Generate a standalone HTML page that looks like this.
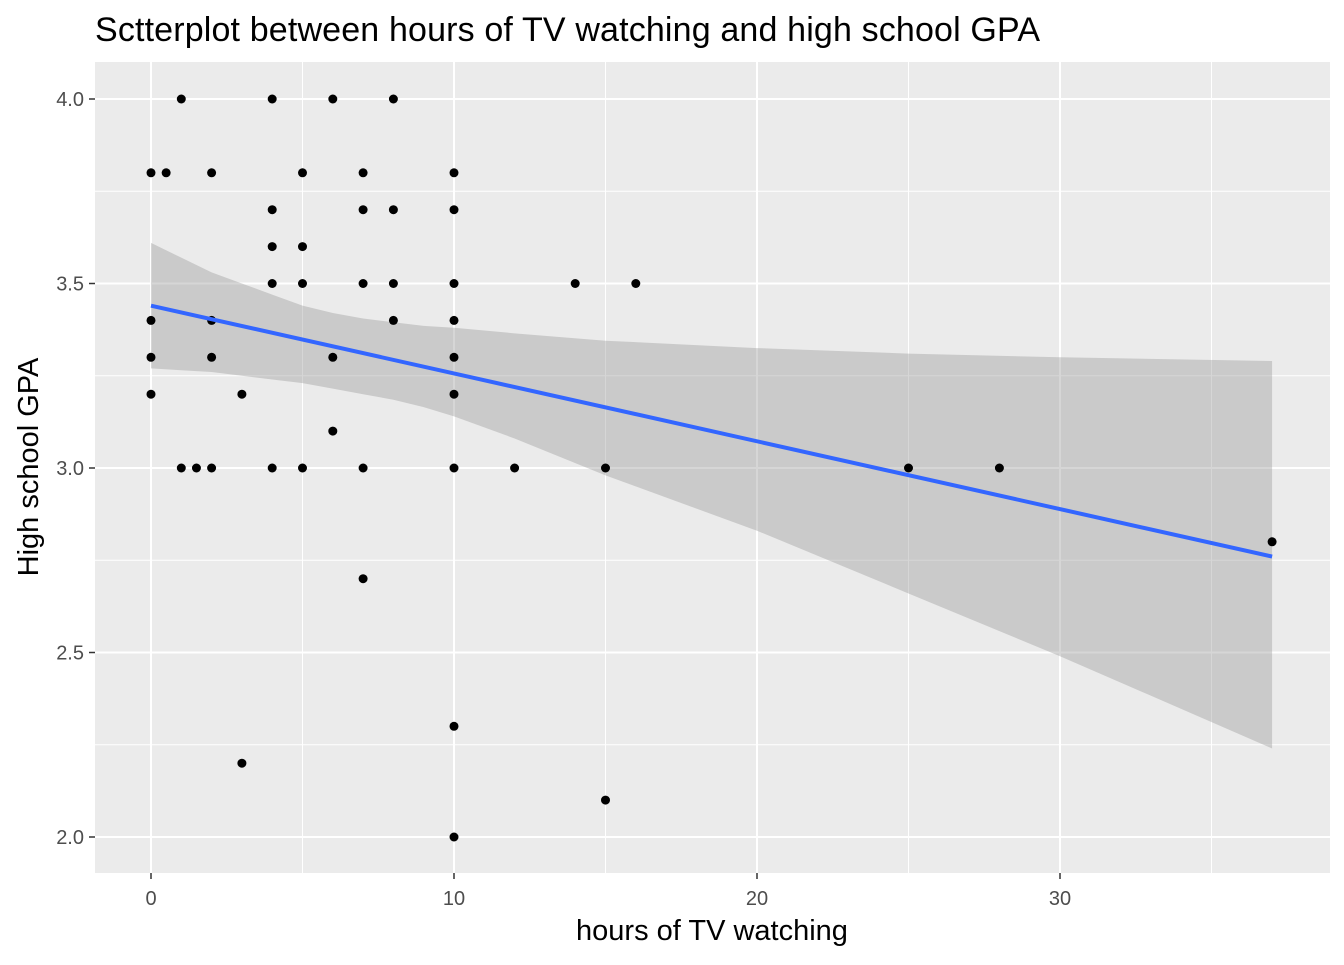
<!DOCTYPE html>
<html><head><meta charset="utf-8"><style>
body{margin:0;background:#fff;font-family:"Liberation Sans",sans-serif}
</style></head><body>
<svg id="chart" width="1344" height="960" xmlns="http://www.w3.org/2000/svg" font-family="Liberation Sans, sans-serif">
<text x="95" y="41" font-size="34" fill="#000" textLength="945">Sctterplot between hours of TV watching and high school GPA</text>
<rect x="95" y="62" width="1235" height="811" fill="#ebebeb"/>
<g id="grid"></g><g id="band"></g><g id="pts"></g><g id="line"></g><g id="axes"></g>
<text x="712" y="940" font-size="29" text-anchor="middle" fill="#000">hours of TV watching</text>
<text transform="translate(38,467) rotate(-90)" font-size="29" text-anchor="middle" fill="#000">High school GPA</text>
</svg>
<script>
const xs=[0,0,0,0,0.5,1,1,1.5,2,2,2,2,3,3,4,4,4,4,4,5,5,5,5,6,6,6,7,7,7,7,7,8,8,8,8,10,10,10,10,10,10,10,10,10,12,14,15,15,16,25,28,37];
const ys=[3.8,3.4,3.3,3.2,3.8,4.0,3.0,3.0,3.8,3.4,3.3,3.0,3.2,2.2,4.0,3.7,3.6,3.5,3.0,3.8,3.6,3.5,3.0,4.0,3.3,3.1,3.8,3.7,3.5,3.0,2.7,4.0,3.7,3.5,3.4,3.8,3.7,3.5,3.4,3.3,3.2,3.0,2.3,2.0,3.0,3.5,3.0,2.1,3.5,3.0,3.0,2.8];
const fitX=[0,37];
const fitY=[3.44,2.76];
const bandX=[0,1,2,3,4,5,6,7,8,9,10,12,15,20,25,30,37];
const bandLo=[3.27,3.265,3.26,3.25,3.24,3.23,3.215,3.2,3.185,3.165,3.14,3.08,2.98,2.83,2.66,2.49,2.24];
const bandHi=[3.61,3.57,3.53,3.5,3.47,3.44,3.42,3.405,3.395,3.385,3.38,3.365,3.345,3.325,3.31,3.30,3.29];
const xTicks=[0,10,20,30];
const yTicks=[2.0,2.5,3.0,3.5,4.0];
const X=v=>151+v*30.3, Y=v=>99+(4-v)*369;
const NS="http://www.w3.org/2000/svg";
function mk(p,t,a){const e=document.createElementNS(NS,t);for(const k in a)e.setAttribute(k,a[k]);document.getElementById(p).appendChild(e);return e;}
[5,15,25,35].forEach(v=>{const e=mk('grid','line',{x1:X(v),x2:X(v),y1:62,y2:873,stroke:'#fff','stroke-width':1});

});
[2.25,2.75,3.25,3.75].forEach(v=>{const e=mk('grid','line',{x1:95,x2:1330,y1:Y(v),y2:Y(v),stroke:'#fff','stroke-width':1});

});
xTicks.forEach(v=>{const e=mk('grid','line',{x1:X(v),x2:X(v),y1:62,y2:873,stroke:'#fff','stroke-width':2});


const t=mk('axes','text',{x:X(v),y:905,'font-size':20,fill:'#4d4d4d','text-anchor':'middle'});t.textContent=v;


mk('axes','line',{x1:X(v),x2:X(v),y1:873,y2:879,stroke:'#333','stroke-width':1.5});});
yTicks.forEach(v=>{const e=mk('grid','line',{x1:95,x2:1330,y1:Y(v),y2:Y(v),stroke:'#fff','stroke-width':2});


const t=mk('axes','text',{x:84,y:Y(v)+7,'font-size':20,fill:'#4d4d4d','text-anchor':'end'});t.textContent=v.toFixed(1);


mk('axes','line',{x1:89,x2:95,y1:Y(v),y2:Y(v),stroke:'#333','stroke-width':1.5});});
let d='M'+bandX.map((x,i)=>X(x)+','+Y(bandHi[i])).join(' L')+' L'+bandX.map((x,i)=>X(x)+','+Y(bandLo[i])).reverse().join(' L')+'Z';
const b=mk('band','path',{d:d,fill:'#999',opacity:0.4});


xs.forEach((x,i)=>{const c=mk('pts','circle',{cx:X(x),cy:Y(ys[i]),r:4.5,fill:'#000'});

});
const l=mk('line','line',{x1:X(fitX[0]),y1:Y(fitY[0]),x2:X(fitX[1]),y2:Y(fitY[1]),stroke:'#3366ff','stroke-width':4});


</script>
</body></html>
